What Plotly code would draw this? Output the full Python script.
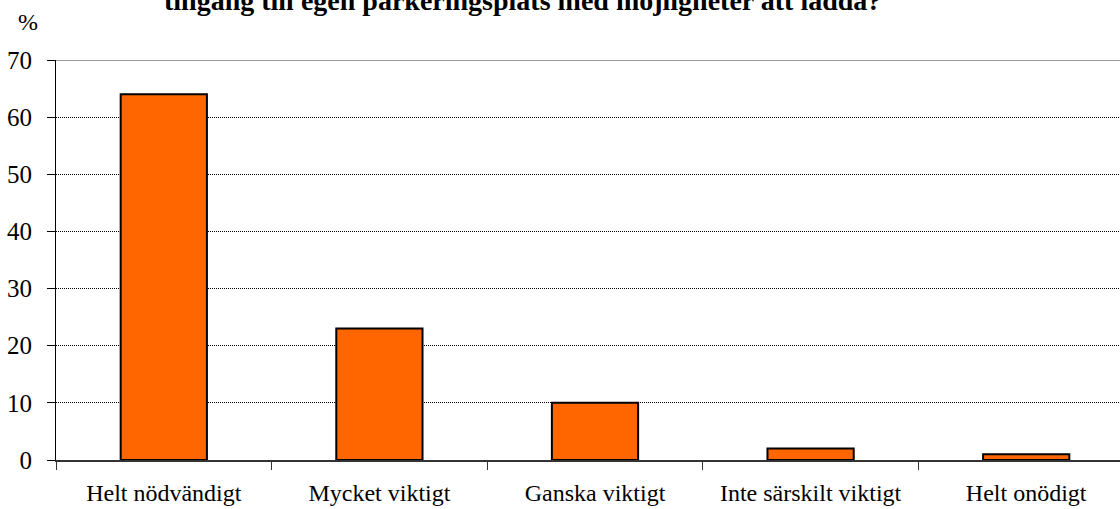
import plotly.graph_objects as go

categories = ["Helt nödvändigt", "Mycket viktigt", "Ganska viktigt", "Inte särskilt viktigt", "Helt onödigt"]
values = [64, 23, 10, 2, 1]
y_ticks = [0, 10, 20, 30, 40, 50, 60, 70]
title_text = "tillgång till egen parkeringsplats med möjligheter att ladda?"
unit_label = "%"

W, H = 1120, 509
ML, MR, MT, MB = 56, 0, 60, 49
plot_h = H - MT - MB

font_family = "Liberation Serif"

fig = go.Figure()
fig.add_trace(go.Bar(
    x=categories, y=values, width=0.4,
    marker=dict(color="#FF6600", line=dict(color="black", width=2)),
    showlegend=False, hoverinfo="skip",
))

cat_px = 215.6
x_max = (W - ML - MR) / cat_px - 0.5

fig.update_layout(
    width=W, height=H,
    margin=dict(l=ML, r=MR, t=MT, b=MB, pad=0, autoexpand=False),
    paper_bgcolor="white", plot_bgcolor="white",
    font=dict(family=font_family, size=24, color="black"),
    xaxis=dict(
        type="category", range=[-0.5, x_max], automargin=False,
        showline=True, linecolor="#333333", linewidth=2,
        ticks="outside", tickson="boundaries", ticklen=8, tickcolor="#333333", tickwidth=1,
        showgrid=False, zeroline=False,
        tickfont=dict(family=font_family, size=24, color="black"),
        ticklabelstandoff=10,
    ),
    yaxis=dict(
        range=[0, 70], tickvals=y_ticks, ticktext=[str(v) for v in y_ticks],
        automargin=False,
        showline=True, linecolor="black", linewidth=1,
        ticks="outside", ticklen=8, tickcolor="black", tickwidth=1,
        showgrid=True, gridcolor="black", gridwidth=1, griddash="1px,1px",
        zeroline=False,
        tickfont=dict(family=font_family, size=25, color="black"),
        ticklabelstandoff=10,
    ),
    shapes=[dict(type="line", xref="paper", yref="y", x0=0, x1=1, y0=70, y1=70,
                 line=dict(color="#999999", width=2), layer="above")],
    annotations=[
        dict(text="<b>" + title_text + "</b>", xref="paper", yref="paper",
             x=(522 - ML) / (W - ML - MR), y=1 + (MT - 18) / plot_h,
             xanchor="center", yanchor="bottom", showarrow=False,
             font=dict(family=font_family, size=28, color="black")),
        dict(text=unit_label, xref="paper", yref="paper",
             x=(28 - ML) / (W - ML - MR), y=1 + (MT - 22) / plot_h,
             xanchor="center", yanchor="middle", showarrow=False,
             font=dict(family=font_family, size=24, color="black")),
    ],
)

fig.write_html("out.html", config={"displayModeBar": False},
               post_script="document.body.style.margin='0px';")
